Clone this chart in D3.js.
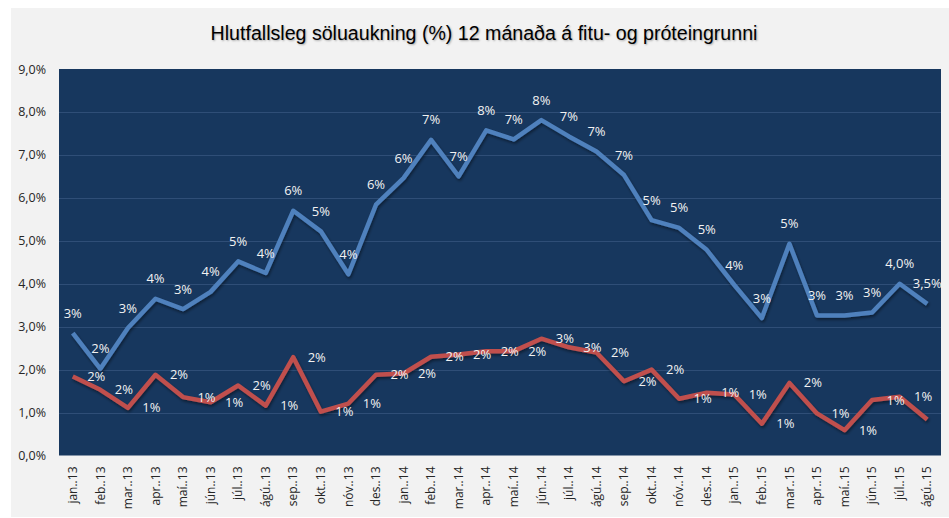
<!DOCTYPE html>
<html>
<head>
<meta charset="utf-8">
<script src="https://cdn.jsdelivr.net/npm/d3@7"></script>
<style>
  html, body { margin: 0; padding: 0; background: #ffffff; }
  svg { display: block; }
</style>
</head>
<body>
<div id="chart"></div>
<script>
// gögn lesin af myndinni
const months = [
    "jan..13", "feb..13", "mar..13", "apr..13", "maí..13", "jún..13", "júl..13", "ágú..13",
    "sep..13", "okt..13", "nóv..13", "des..13",
    "jan..14", "feb..14", "mar..14", "apr..14", "maí..14", "jún..14", "júl..14", "ágú..14",
    "sep..14", "okt..14", "nóv..14", "des..14",
    "jan..15", "feb..15", "mar..15", "apr..15", "maí..15", "jún..15", "júl..15", "ágú..15"
];

// fitugrunnur (blá lína), %
const blueValues = [
    2.85, 2.02, 2.97, 3.65, 3.41, 3.81, 4.52, 4.25, 5.70, 5.22, 4.22, 5.84,
    6.46, 7.35, 6.50, 7.57, 7.36, 7.81, 7.43, 7.08, 6.53, 5.48, 5.30, 4.79,
    3.97, 3.20, 4.93, 3.26, 3.26, 3.33, 4.00, 3.53
];

// próteingrunnur (rauð lína), %
const redValues = [
    1.84, 1.53, 1.11, 1.88, 1.36, 1.24, 1.63, 1.16, 2.29, 1.02, 1.21, 1.88,
    1.91, 2.30, 2.35, 2.43, 2.43, 2.72, 2.52, 2.40, 1.73, 2.00, 1.32, 1.46,
    1.42, 0.74, 1.69, 0.98, 0.59, 1.29, 1.37, 0.84
];

// mánuðir þar sem blái merkimiðinn er með einum aukastaf
const preciseMonths = ["júl..15", "ágú..15"];

const yTicks = [0, 1, 2, 3, 4, 5, 6, 7, 8, 9];

const title = "Hlutfallsleg söluaukning (%) 12 mánaða á fitu- og próteingrunni";

const width = 949;
const height = 518;
const margin = { top: 69, right: 8, bottom: 62.5, left: 59 };
const innerW = width - margin.left - margin.right;
const innerH = height - margin.top - margin.bottom;

const isl = d3.formatLocale({ decimal: ",", thousands: ".", grouping: [3], currency: ["", " kr."] });
const fmtAxis = v => isl.format(".1f")(v) + "%";
const fmt0 = v => isl.format(".0f")(v) + "%";
const fmt1 = v => isl.format(".1f")(v) + "%";

const svg = d3.select("#chart")
    .append("svg")
    .attr("width", width)
    .attr("height", height);

// bakgrunnur
svg.append("rect")
    .attr("x", 11).attr("y", 8)
    .attr("width", width - 11).attr("height", 509)
    .attr("fill", "#f2f2f2");

svg.append("text")
    .attr("x", 484)
    .attr("y", 40)
    .attr("text-anchor", "middle")
    .style("font-family", "Arial, 'Liberation Sans', sans-serif")
    .style("font-size", "19.6px")
    .style("fill", "#000")
    .style("text-shadow", "1px 1px 2px rgba(0,0,0,0.3)")
    .text(title);

const g = svg.append("g")
    .attr("transform", `translate(${margin.left},${margin.top})`);

const x = d3.scaleBand()
    .domain(months)
    .range([0, innerW]);

const y = d3.scaleLinear()
    .domain([0, 9])
    .range([innerH, 0]);

g.append("rect")
    .attr("width", innerW)
    .attr("height", innerH)
    .attr("fill", "#17375e");

// rásir
g.append("g")
    .selectAll("line")
    .data(yTicks.slice(1, -1))
    .join("line")
    .attr("x1", 0).attr("x2", innerW)
    .attr("y1", d => Math.round(y(d)) + 0.5)
    .attr("y2", d => Math.round(y(d)) + 0.5)
    .attr("stroke", "#2f4e77")
    .attr("stroke-width", 1);

// y-ás
const yAxis = g.append("g")
    .call(d3.axisLeft(y).tickValues(yTicks).tickFormat(fmtAxis).tickSize(0).tickPadding(13));
yAxis.select(".domain").remove();
yAxis.selectAll("text")
    .style("font-family", "'Open Sans', sans-serif")
    .style("font-size", "12.5px")
    .style("fill", "#262626");

// x-ás
const xAxis = g.append("g")
    .attr("transform", `translate(0,${innerH})`)
    .call(d3.axisBottom(x).tickSize(0));
xAxis.select(".domain").remove();
xAxis.selectAll("text")
    .attr("transform", "rotate(-90)")
    .attr("text-anchor", "end")
    .attr("x", -11)
    .attr("y", 0)
    .attr("dy", "0.35em")
    .style("font-family", "'Open Sans', sans-serif")
    .style("font-size", "12px")
    .style("fill", "#262626");

const cx = d => x(d) + x.bandwidth() / 2;

const line = d3.line()
    .x(d => cx(d.m))
    .y(d => y(d.v));

const blue = months.map((m, i) => ({ m: m, v: blueValues[i] }));
const red = months.map((m, i) => ({ m: m, v: redValues[i] }));

const defs = svg.append("defs");
defs.append("filter")
    .attr("id", "shadow")
    .attr("x", "-5%").attr("y", "-5%").attr("width", "110%").attr("height", "110%")
    .append("feDropShadow")
    .attr("dx", 1).attr("dy", 2).attr("stdDeviation", 1.5)
    .attr("flood-color", "#000").attr("flood-opacity", 0.45);

g.append("path")
    .datum(blue)
    .attr("d", line)
    .attr("fill", "none")
    .attr("stroke", "#4f81bd")
    .attr("stroke-width", 4.5)
    .attr("stroke-linejoin", "round")
    .attr("filter", "url(#shadow)");

g.append("path")
    .datum(red)
    .attr("d", line)
    .attr("fill", "none")
    .attr("stroke", "#c0504d")
    .attr("stroke-width", 4.5)
    .attr("stroke-linejoin", "round")
    .attr("filter", "url(#shadow)");

const labelStyle = sel => sel
    .attr("dy", "0.35em")
    .style("font-family", "'Open Sans', sans-serif")
    .style("font-size", "13px")
    .style("fill", "#f2f2f2");

// merkimiðar bláu línunnar, ofan við punkt
g.append("g")
    .selectAll("text")
    .data(blue)
    .join("text")
    .attr("x", d => cx(d.m))
    .attr("y", d => y(d.v) - 20)
    .attr("text-anchor", "middle")
    .call(labelStyle)
    .text(d => preciseMonths.includes(d.m) ? fmt1(d.v) : fmt0(d.v));

// merkimiðar rauðu línunnar, hægra megin við punkt
g.append("g")
    .selectAll("text")
    .data(red)
    .join("text")
    .attr("x", d => cx(d.m) + 23.5)
    .attr("y", d => y(d.v))
    .attr("text-anchor", "middle")
    .call(labelStyle)
    .text(d => fmt0(d.v));
</script>
</body>
</html>
